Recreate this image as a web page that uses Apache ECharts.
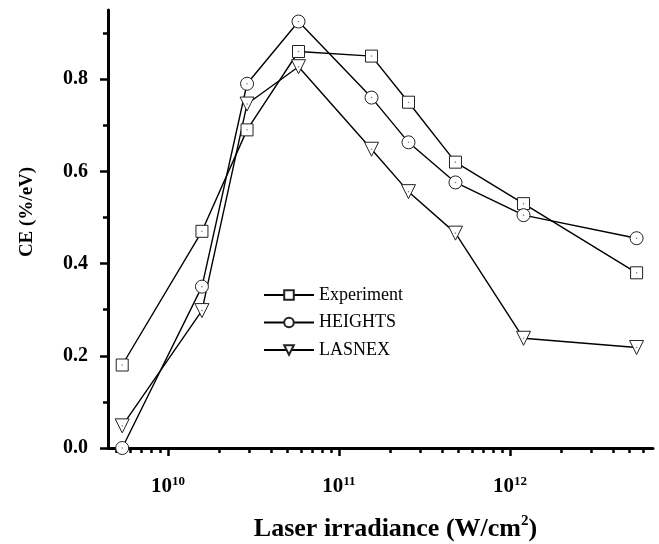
<!DOCTYPE html>
<html>
<head>
<meta charset="utf-8">
<script src="https://cdn.jsdelivr.net/npm/echarts@6/dist/echarts.min.js"></script>
<style>html,body{margin:0;padding:0;background:#fff}#c{width:659px;height:544px}</style>
</head>
<body>
<div id="c"></div>
<script>
// Data
const irradiance = [5.4e9, 1.58e10, 2.9e10, 5.8e10, 1.55e11, 2.55e11, 4.8e11, 1.2e12, 5.5e12];
const experiment = [0.18, 0.47, 0.69, 0.86, 0.85, 0.75, 0.62, 0.53, 0.38];
const heights    = [0.0, 0.35, 0.79, 0.925, 0.76, 0.663, 0.576, 0.505, 0.455];
const lasnex     = [0.048, 0.298, 0.746, 0.827, 0.648, 0.556, 0.466, 0.238, 0.218];
const seriesNames = ['Experiment', 'HEIGHTS', 'LASNEX'];
const xMin = 4.46e9, xMax = 6.86e12;
const yMin = 0, yMax = 0.95;
const xMajorExponents = [10, 11, 12];
const xMinorTicks = [5e9, 6e9, 7e9, 8e9, 9e9,
  2e10, 3e10, 4e10, 5e10, 6e10, 7e10, 8e10, 9e10,
  2e11, 3e11, 4e11, 5e11, 6e11, 7e11, 8e11, 9e11,
  2e12, 3e12, 4e12, 5e12, 6e12];
const yMajorTicks = [0, 0.2, 0.4, 0.6, 0.8];
const yMinorTicks = [0.1, 0.3, 0.5, 0.7, 0.9];

const FONT = 'Liberation Serif';
const pair = vals => irradiance.map((x, i) => [x, vals[i]]);

const chart = echarts.init(document.getElementById('c'), null, {renderer: 'canvas'});
const markerStyle = {color: '#fff', borderColor: '#222', borderWidth: 1};
const lineSeries = (name, vals, symbol, size) => ({
  name, type: 'line', data: pair(vals), xAxisIndex: 0, yAxisIndex: 0,
  symbol, symbolSize: size, showAllSymbol: true,
  lineStyle: {color: '#000', width: 1.4},
  itemStyle: markerStyle, z: 3
});
const dotSeries = vals => ({
  type: 'scatter', data: pair(vals), xAxisIndex: 0, yAxisIndex: 0,
  symbol: 'circle', symbolSize: 1.6, itemStyle: {color: '#666'}, silent: true, z: 5
});

chart.setOption({
  animation: false,
  backgroundColor: '#fff',
  grid: {left: 108, right: 6, top: 10, bottom: 96, containLabel: false, outerBoundsMode: 'none'},
  legend: {
    data: seriesNames, orient: 'vertical', left: 263, top: 286, padding: 0,
    itemWidth: 50, itemHeight: 12, itemGap: 9.5,
    textStyle: {fontFamily: FONT, fontSize: 18, color: '#000'}
  },
  xAxis: [
    {
      type: 'log', logBase: 10, min: xMin, max: xMax, position: 'bottom',
      axisLine: {show: true, lineStyle: {color: '#000', width: 3}},
      axisTick: {show: false}, axisLabel: {show: false}, splitLine: {show: false}, minorTick: {show: false},
      name: '{t|Laser irradiance (W/cm}{s|2}{t|)}', nameLocation: 'middle', nameGap: 66,
      nameTextStyle: {
        padding: [0, 0, 0, 30],
        rich: {
          t: {fontFamily: FONT, fontSize: 26, fontWeight: 'bold', color: '#000', lineHeight: 30},
          s: {fontFamily: FONT, fontSize: 15, fontWeight: 'bold', color: '#000', verticalAlign: 'top', lineHeight: 14}
        }
      }
    },
    {
      type: 'value', min: Math.log10(xMin), max: Math.log10(xMax), position: 'bottom',
      axisLine: {show: false}, splitLine: {show: false},
      axisTick: {show: true, customValues: xMajorExponents, length: 8, inside: false, lineStyle: {color: '#000', width: 2.5}},
      axisLabel: {
        show: true, customValues: xMajorExponents, margin: 27,
        formatter: v => '{b|10}{s|' + v + '}',
        rich: {
          b: {fontFamily: FONT, fontSize: 21, fontWeight: 'bold', color: '#000', lineHeight: 24},
          s: {fontFamily: FONT, fontSize: 13, fontWeight: 'bold', color: '#000', verticalAlign: 'top', lineHeight: 12}
        }
      }
    },
    {
      type: 'value', min: Math.log10(xMin), max: Math.log10(xMax), position: 'bottom',
      axisLine: {show: false}, splitLine: {show: false}, axisLabel: {show: false},
      axisTick: {show: true, customValues: xMinorTicks.map(v => Math.log10(v)), length: 5, lineStyle: {color: '#000', width: 2.5}}
    }
  ],
  yAxis: [
    {
      type: 'value', min: yMin, max: yMax, position: 'left',
      axisLine: {show: true, lineStyle: {color: '#000', width: 3}},
      splitLine: {show: false},
      axisTick: {show: true, customValues: yMajorTicks, length: 8, lineStyle: {color: '#000', width: 2.5}},
      axisLabel: {
        show: true, customValues: yMajorTicks, margin: 20,
        formatter: v => v.toFixed(1),
        fontFamily: FONT, fontSize: 20, fontWeight: 'bold', color: '#000'
      },
      name: 'CE (%/eV)', nameLocation: 'middle', nameGap: 71, nameRotate: 90,
      nameTextStyle: {fontFamily: FONT, fontSize: 19, fontWeight: 'bold', color: '#000', padding: [0, 0, 0, 34]}
    },
    {
      type: 'value', min: yMin, max: yMax, position: 'left',
      axisLine: {show: false}, splitLine: {show: false}, axisLabel: {show: false},
      axisTick: {show: true, customValues: yMinorTicks, length: 5, lineStyle: {color: '#000', width: 2.5}}
    }
  ],
  series: [
    lineSeries(seriesNames[0], experiment, 'rect', 12),
    lineSeries(seriesNames[1], heights, 'circle', 13),
    lineSeries(seriesNames[2], lasnex, 'path://M0,0 L12,0 L6,11 Z', 14),
    dotSeries(experiment), dotSeries(heights), dotSeries(lasnex)
  ]
});
</script>
</body>
</html>
